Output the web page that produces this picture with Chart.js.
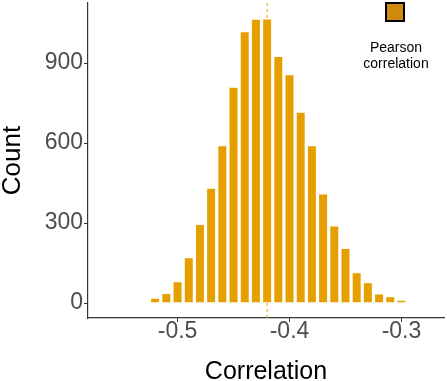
<!DOCTYPE html>
<html>
<head>
<meta charset="utf-8">
<script src="https://cdn.jsdelivr.net/npm/chart.js@4"></script>
<style>
  html, body { margin: 0; padding: 0; background: #fff; }
  #wrap { width: 447px; height: 381px; }
</style>
</head>
<body>
<div id="wrap"><canvas id="hist" width="447" height="381"></canvas></div>
<script>
// histogram bins (centre of each 0.01 bin) and counts
const binCenters = [-0.52, -0.51, -0.50, -0.49, -0.48, -0.47, -0.46, -0.45, -0.44, -0.43, -0.42, -0.41,
  -0.40, -0.39, -0.38, -0.37, -0.36, -0.35, -0.34, -0.33, -0.32, -0.31, -0.30];
const counts = [18, 36, 80, 170, 295, 430, 590, 809, 1017, 1064, 1065, 924,
  856, 715, 590, 409, 289, 205, 114, 76, 34, 24, 11];
const meanCorrelation = -0.42;
const xTicks = [-0.5, -0.4, -0.3];
const yTicks = [0, 300, 600, 900];
const xRange = [-0.58, -0.262];
const yRange = [-56, 1125];

const orange = '#E69F00';
const fontFamily = '"Liberation Sans", Arial, Helvetica, sans-serif';

// small legend in the top right corner
const legendBox = {
  id: 'legendBox',
  afterDraw(chart) {
    const ctx = chart.ctx;
    ctx.save();
    ctx.fillStyle = '#D18A0E';
    ctx.fillRect(386, 3, 18, 18);
    ctx.strokeStyle = '#000';
    ctx.lineWidth = 2;
    ctx.strokeRect(386, 3, 18, 18);
    ctx.fillStyle = '#000';
    ctx.font = '14px ' + fontFamily;
    ctx.textAlign = 'center';
    ctx.textBaseline = 'alphabetic';
    ctx.fillText('Pearson', 396, 52);
    ctx.fillText('correlation', 396, 68);
    ctx.restore();
  }
};

const ctx = document.getElementById('hist').getContext('2d');
new Chart(ctx, {
  data: {
    datasets: [
      {
        type: 'bar',
        data: binCenters.map((x, i) => ({ x: x, y: counts[i] })),
        backgroundColor: orange,
        borderColor: 'rgba(255, 236, 190, 0.9)',
        borderWidth: 0.5,
        barPercentage: 1,
        categoryPercentage: 0.8,
      },
      {
        type: 'line',
        data: [{ x: meanCorrelation, y: yRange[0] }, { x: meanCorrelation, y: yRange[1] }],
        borderColor: orange,
        borderWidth: 1,
        borderDash: [3, 3],
        pointRadius: 0,
      },
    ],
  },
  options: {
    responsive: false,
    animation: false,
    layout: { padding: { top: 3, right: 3, left: 0, bottom: 0 } },
    plugins: { legend: { display: false }, tooltip: { enabled: false } },
    scales: {
      x: {
        type: 'linear',
        min: xRange[0],
        max: xRange[1],
        offset: false,
        afterBuildTicks: (s) => { s.ticks = xTicks.map(v => ({ value: v })); },
        afterFit: (s) => { s.height = 63; s.paddingLeft = 0; s.paddingRight = 0; },
        grid: { display: true, offset: false, drawOnChartArea: false, drawTicks: true, tickLength: 4, color: '#333' },
        border: { display: true, color: '#333', width: 1.2 },
        ticks: {
          color: '#4D4D4D',
          font: { family: fontFamily, size: 23 },
          padding: -4,
          maxRotation: 0,
          callback: (v) => v.toFixed(1),
        },
        title: {
          display: true,
          text: 'Correlation',
          color: '#000',
          font: { family: fontFamily, size: 25, lineHeight: 1 },
          padding: { top: 0, bottom: -4 },
        },
      },
      y: {
        min: yRange[0],
        max: yRange[1],
        afterBuildTicks: (s) => { s.ticks = yTicks.map(v => ({ value: v })); },
        afterFit: (s) => { s.width = 88; s.paddingTop = 0; s.paddingBottom = 0; },
        grid: { display: true, drawOnChartArea: false, drawTicks: true, tickLength: 4, color: '#333' },
        border: { display: true, color: '#333', width: 1.2 },
        ticks: {
          color: '#4D4D4D',
          font: { family: fontFamily, size: 23 },
          padding: 1,
        },
        title: {
          display: true,
          text: 'Count',
          color: '#000',
          font: { family: fontFamily, size: 26, lineHeight: 1 },
          padding: 0,
        },
      },
    },
  },
  plugins: [legendBox],
});
</script>
</body>
</html>
